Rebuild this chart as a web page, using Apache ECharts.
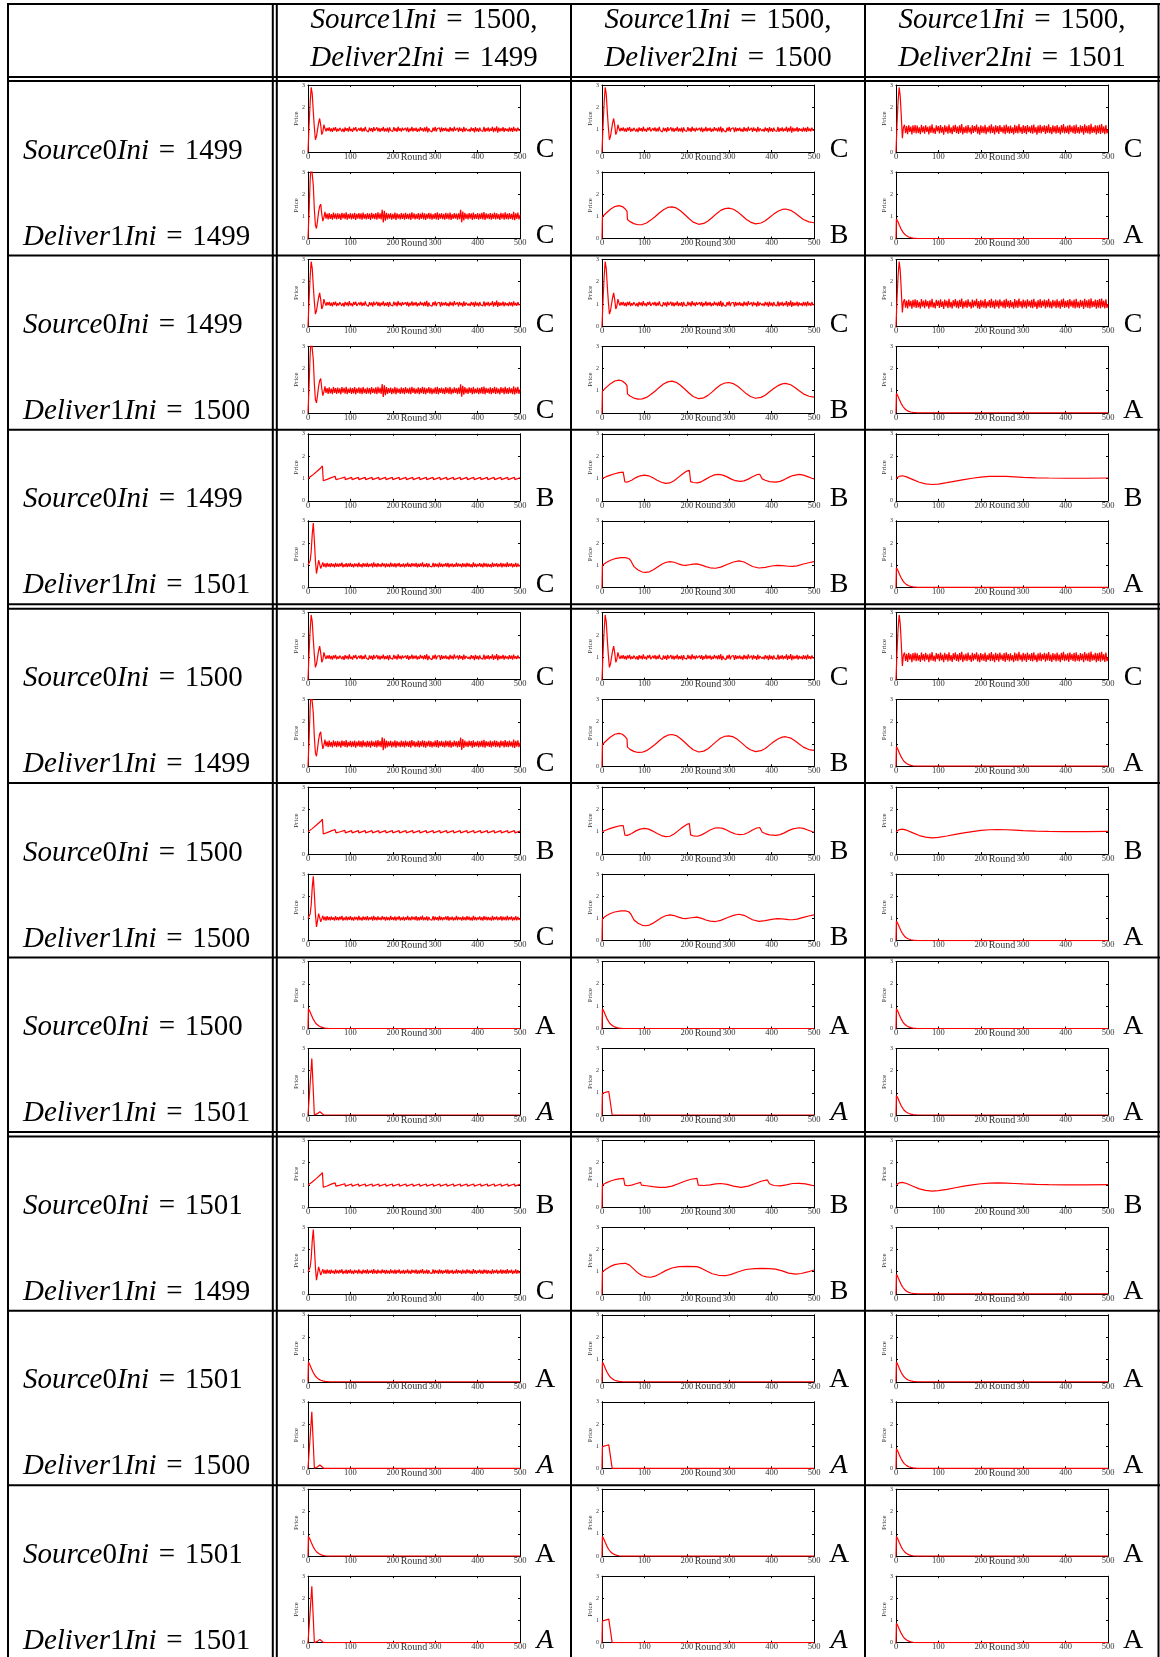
<!DOCTYPE html>
<html>
<head>
<meta charset="utf-8">
<script src="https://cdn.jsdelivr.net/npm/echarts@6.0.0/dist/echarts.min.js"></script>
<style>
  html, body { margin: 0; padding: 0; background: #fff; }
  #main { width: 1160px; height: 1657px; }
</style>
</head>
<body>
<div id="main"></div>
<script>
  // noisy runs, one value every STEP rounds (0..500)
  const STEP = 2.5;
  const noiseSmallY = [0, 1.2, 2.2, 2.9, 2.6, 1.8, 1.1, 0.55, 0.7, 1.0,
    1.3, 1.5, 1.2, 0.78, 0.9, 1.22, 1.05, 0.93, 1.08, 0.95,
    1.1, 0.92, 1.06, 0.9, 1.09, 0.96, 1.11, 0.91, 1.04, 0.94,
    1.08, 1.12, 0.92, 1.05, 0.89, 1.1, 0.95, 1.07, 0.91, 1.13,
    0.94, 1.03, 0.9, 1.09, 0.97, 1.11, 0.92, 0.88, 1.07, 0.95,
    1.1, 0.91, 1.06, 0.93, 1.12, 0.96, 1.04, 0.9, 1.09, 0.94,
    1.07, 0.89, 1.11, 0.95, 1.03, 1.1, 0.92, 1.08, 0.9, 1.06,
    0.95, 1.12, 0.91, 1.05, 0.93, 1.09, 0.88, 1.1, 0.96, 1.04,
    0.92, 1.11, 0.94, 1.07, 0.9, 1.13, 0.95, 1.06, 0.91, 1.09,
    0.97, 0.9, 1.08, 0.93, 1.1, 0.89, 1.05, 0.94, 1.12, 0.92,
    1.07, 0.95, 1.09, 0.9, 1.04, 0.93, 1.11, 0.96, 1.06, 0.91,
    1.1, 0.92, 1.14, 0.88, 1.07, 0.95, 1.03, 0.9, 1.09, 0.94,
    1.12, 0.91, 1.05, 0.97, 1.08, 0.89, 1.1, 0.93, 1.06, 0.95,
    1.09, 0.92, 1.04, 0.9, 1.11, 0.94, 1.07, 0.91, 1.13, 0.96,
    0.93, 1.08, 0.9, 1.1, 0.95, 1.05, 0.89, 1.12, 0.92, 1.06,
    1.09, 0.94, 1.03, 0.91, 1.1, 0.95, 1.07, 0.88, 1.11, 0.93,
    1.06, 0.9, 1.09, 0.96, 1.04, 0.92, 1.12, 0.9, 1.07, 0.94,
    1.1, 0.91, 1.05, 0.95, 1.13, 0.89, 1.08, 0.93, 1.15, 0.87,
    1.09, 0.92, 1.06, 0.94, 1.11, 0.9, 1.07, 0.95, 1.04, 0.91,
    1.1, 0.93, 1.08, 0.9, 1.12, 0.94, 1.05, 0.92, 1.09, 0.96,
    0.98];
  const noiseWideY = [0, 1.3, 2.3, 2.9, 2.5, 1.6, 0.62, 1.1, 1.22, 0.84,
    1.16, 0.8, 1.2, 0.9, 1.14, 0.79, 1.19, 0.86, 1.21, 0.83,
    1.18, 0.85, 1.1, 0.8, 1.22, 0.88, 1.15, 0.82, 1.2, 0.9,
    1.13, 0.79, 1.17, 0.86, 1.24, 0.84, 1.08, 0.81, 1.19, 0.92,
    1.16, 0.83, 1.21, 0.87, 1.12, 0.78, 1.2, 0.89, 1.15, 0.82,
    1.23, 0.85, 1.1, 0.8, 1.18, 0.9, 1.22, 0.84, 1.14, 0.81,
    1.19, 0.87, 1.25, 0.79, 1.12, 0.86, 1.17, 0.83, 1.21, 0.88,
    1.1, 0.8, 1.2, 0.85, 1.16, 0.91, 1.23, 0.82, 1.13, 0.78,
    1.19, 0.86, 1.15, 0.84, 1.22, 0.8, 1.11, 0.89, 1.18, 0.83,
    1.24, 0.85, 1.14, 0.79, 1.2, 0.88, 1.16, 0.81, 1.21, 0.9,
    1.12, 0.84, 1.19, 0.8, 1.23, 0.87, 1.15, 0.82, 1.18, 0.86,
    1.1, 0.79, 1.22, 0.85, 1.17, 0.83, 1.25, 0.88, 1.13, 0.81,
    1.2, 0.86, 1.16, 0.8, 1.21, 0.89, 1.14, 0.84, 1.19, 0.82,
    1.23, 0.87, 1.11, 0.78, 1.18, 0.85, 1.22, 0.83, 1.15, 0.9,
    1.2, 0.81, 1.17, 0.86, 1.24, 0.84, 1.12, 0.8, 1.19, 0.88,
    1.16, 0.82, 1.21, 0.85, 1.13, 0.79, 1.2, 0.87, 1.25, 0.83,
    1.14, 0.86, 1.18, 0.8, 1.22, 0.89, 1.15, 0.84, 1.2, 0.81,
    1.23, 0.85, 1.11, 0.82, 1.19, 0.88, 1.16, 0.78, 1.24, 0.86,
    1.17, 0.83, 1.21, 0.8, 1.26, 0.85, 1.13, 0.87, 1.2, 0.79,
    1.18, 0.84, 1.22, 0.81, 1.25, 0.86, 1.15, 0.8, 1.21, 0.83,
    1.0];
  const noiseLargeY = [0, 1.2, 2.6, 3.4, 3.4, 2.4, 1.3, 0.6, 0.45, 0.8,
    1.2, 1.45, 1.55, 1.1, 0.78, 0.95, 1.2, 0.9, 1.12, 0.86,
    1.15, 0.88, 1.1, 0.85, 1.17, 0.9, 1.12, 0.86, 1.14, 0.89,
    1.11, 0.84, 1.16, 0.91, 1.13, 0.87, 1.18, 0.85, 1.1, 0.9,
    1.14, 0.86, 1.12, 0.88, 1.16, 0.84, 1.11, 0.9, 1.15, 0.87,
    1.13, 0.85, 1.17, 0.89, 1.1, 0.86, 1.14, 0.88, 1.12, 0.84,
    1.16, 0.9, 1.11, 0.87, 1.15, 0.85, 1.18, 0.89, 1.13, 0.86,
    1.3, 0.72, 1.25, 0.8, 1.16, 0.86, 1.12, 0.9, 1.14, 0.85,
    1.11, 0.88, 1.17, 0.84, 1.13, 0.9, 1.1, 0.86, 1.15, 0.88,
    1.12, 0.85, 1.16, 0.89, 1.11, 0.87, 1.14, 0.84, 1.18, 0.9,
    1.13, 0.86, 1.1, 0.88, 1.15, 0.85, 1.12, 0.89, 1.17, 0.86,
    1.14, 0.84, 1.11, 0.9, 1.16, 0.87, 1.13, 0.85, 1.1, 0.88,
    1.15, 0.86, 1.18, 0.84, 1.12, 0.9, 1.14, 0.87, 1.11, 0.85,
    1.16, 0.89, 1.13, 0.86, 1.17, 0.84, 1.1, 0.88, 1.15, 0.9,
    1.12, 0.85, 1.14, 0.87, 1.29, 0.73, 1.22, 0.82, 1.16, 0.88,
    1.11, 0.86, 1.15, 0.9, 1.13, 0.84, 1.17, 0.87, 1.1, 0.89,
    1.14, 0.85, 1.12, 0.88, 1.16, 0.86, 1.19, 0.84, 1.13, 0.9,
    1.11, 0.87, 1.15, 0.85, 1.12, 0.89, 1.17, 0.86, 1.14, 0.88,
    1.1, 0.84, 1.16, 0.9, 1.13, 0.85, 1.18, 0.87, 1.12, 0.86,
    1.15, 0.89, 1.11, 0.85, 1.2, 0.83, 1.14, 0.88, 1.17, 0.86,
    1.06];
  const noiseSpikeY = [1.0, 1.05, 1.2, 1.6, 2.4, 2.9, 2.1, 1.2, 0.62, 0.9,
    1.22, 1.05, 0.85, 0.98, 1.12, 0.92, 1.08, 0.9, 1.1, 0.93,
    1.07, 0.91, 1.09, 0.94, 1.05, 0.9, 1.1, 0.93, 1.06, 0.92,
    1.08, 0.95, 1.11, 0.9, 1.04, 0.93, 1.09, 0.91, 1.07, 0.94,
    1.1, 0.92, 1.05, 0.9, 1.08, 0.95, 1.06, 0.91, 1.11, 0.93,
    1.04, 0.9, 1.09, 0.94, 1.07, 0.92, 1.1, 0.91, 1.05, 0.95,
    1.08, 0.9, 1.12, 0.93, 1.06, 0.91, 1.09, 0.94, 1.04, 0.92,
    1.1, 0.95, 1.07, 0.9, 1.08, 0.93, 1.05, 0.91, 1.11, 0.94,
    1.06, 0.92, 1.09, 0.9, 1.07, 0.95, 1.1, 0.91, 1.04, 0.93,
    1.08, 0.9, 1.06, 0.94, 1.11, 0.92, 1.05, 0.91, 1.09, 0.95,
    1.07, 0.93, 1.1, 0.9, 1.06, 0.92, 1.08, 0.94, 1.12, 0.91,
    1.05, 0.93, 1.09, 0.9, 1.07, 0.95, 1.04, 0.92, 1.1, 0.91,
    1.08, 0.94, 1.06, 0.9, 1.11, 0.93, 1.07, 0.91, 1.05, 0.95,
    1.09, 0.92, 1.1, 0.9, 1.06, 0.94, 1.08, 0.91, 1.04, 0.93,
    1.11, 0.92, 1.07, 0.95, 1.05, 0.9, 1.09, 0.93, 1.06, 0.91,
    1.1, 0.94, 1.08, 0.92, 1.04, 0.9, 1.12, 0.93, 1.07, 0.91,
    1.05, 0.95, 1.09, 0.92, 1.06, 0.9, 1.1, 0.94, 1.08, 0.91,
    1.07, 0.93, 1.04, 0.9, 1.11, 0.92, 1.06, 0.95, 1.09, 0.91,
    1.05, 0.94, 1.1, 0.9, 1.08, 0.93, 1.07, 0.91, 1.12, 0.92,
    1.06, 0.95, 1.09, 0.9, 1.05, 0.93, 1.1, 0.91, 1.07, 0.94,
    1.0];

  // smooth runs as [round, price]
  const sinePts = [[0,0],[1,0.98],[10,1.15],[20,1.32],[30,1.44],[40,1.48],[48,1.44],[55,1.33],[59,1.22],[60,0.86],
    [66,0.76],[75,0.67],[85,0.62],[95,0.63],[105,0.7],[115,0.83],[125,0.98],[135,1.15],[145,1.3],[155,1.4],
    [165,1.43],[175,1.38],[185,1.25],[195,1.08],[205,0.9],[215,0.74],[228,0.64],[240,0.68],[250,0.79],[260,0.95],
    [270,1.12],[280,1.27],[290,1.35],[299,1.37],[310,1.32],[320,1.2],[330,1.04],[340,0.87],[350,0.74],[362,0.66],
    [375,0.7],[385,0.8],[395,0.95],[405,1.1],[415,1.23],[425,1.31],[433,1.33],[445,1.27],[455,1.15],[465,1.0],
    [475,0.86],[488,0.75],[500,0.71]];
  const sawPts = [[0,1.0],[10,1.14],[20,1.3],[30,1.47],[34,1.56],[36,0.9],[45,0.96],[55,1.04],[64,1.1],[66,0.95],
    [76,1.0],[87,1.06],[88,0.95],[103,1.05],[104,0.95],[119,1.05],[120,0.95],[135,1.05],[136,0.95],[151,1.05],
    [152,0.95],[167,1.05],[168,0.95],[183,1.05],[184,0.95],[199,1.05],[200,0.95],[215,1.05],[216,0.95],[231,1.05],
    [232,0.95],[247,1.05],[248,0.95],[263,1.05],[264,0.95],[279,1.05],[280,0.95],[295,1.05],[296,0.95],[311,1.05],
    [312,0.95],[327,1.05],[328,0.95],[343,1.05],[344,0.95],[359,1.05],[360,0.95],[375,1.05],[376,0.95],[391,1.05],
    [392,0.95],[407,1.05],[408,0.95],[423,1.05],[424,0.95],[439,1.05],[440,0.95],[455,1.05],[456,0.95],[471,1.05],
    [472,0.95],[487,1.05],[488,0.95],[500,1.03]];
  const wavyJumpsPts = [[0,1.0],[10,1.08],[20,1.15],[30,1.21],[40,1.26],[50,1.28],[53,1.26],[54,0.85],[60,0.84],[70,0.92],
    [80,1.04],[90,1.12],[100,1.15],[110,1.12],[120,1.03],[130,0.92],[140,0.83],[150,0.78],[160,0.8],[170,0.9],
    [180,1.05],[190,1.2],[200,1.33],[206,1.37],[208,1.35],[209,0.86],[215,0.82],[225,0.8],[235,0.86],[245,0.97],
    [255,1.08],[265,1.16],[275,1.18],[285,1.15],[295,1.07],[305,0.97],[315,0.9],[325,0.87],[335,0.89],[345,0.97],
    [355,1.08],[365,1.17],[372,1.19],[376,1.16],[378,0.98],[385,0.92],[395,0.86],[410,0.84],[420,0.87],[430,0.95],
    [440,1.05],[450,1.13],[465,1.18],[475,1.15],[485,1.08],[495,1.01],[500,0.98]];
  const wavyJumps2Pts = [[0,0],[1,1.0],[10,1.1],[20,1.18],[30,1.24],[40,1.28],[51,1.3],[53,1.28],[54,1.0],[60,0.97],
    [70,1.0],[80,1.06],[91,1.12],[93,1.0],[105,0.97],[120,0.93],[135,0.9],[150,0.9],[165,0.95],[180,1.06],
    [195,1.17],[210,1.26],[224,1.3],[226,1.28],[227,1.0],[240,0.98],[255,1.01],[268,1.05],[280,1.07],[295,1.03],
    [310,0.95],[328,0.9],[345,0.95],[360,1.06],[375,1.17],[390,1.23],[393,1.2],[395,1.06],[405,0.98],[420,0.96],
    [435,1.01],[449,1.07],[465,1.08],[480,1.05],[490,1.01],[500,0.97]];
  const wavy2Pts = [[0,0],[1,1.0],[10,1.12],[20,1.22],[30,1.29],[45,1.34],[55,1.34],[63,1.3],[68,1.2],[72,1.05],
    [76,0.92],[85,0.78],[95,0.69],[102,0.67],[112,0.7],[122,0.8],[132,0.93],[142,1.05],[150,1.12],[160,1.16],
    [170,1.13],[180,1.06],[190,1.0],[197,0.99],[210,1.03],[224,1.06],[235,1.0],[245,0.93],[255,0.88],[268,0.86],
    [280,0.91],[295,1.03],[310,1.14],[323,1.19],[335,1.14],[345,1.04],[355,0.94],[370,0.87],[385,0.9],[400,0.96],
    [413,0.99],[425,0.98],[440,0.95],[449,0.94],[460,0.97],[475,1.05],[490,1.12],[500,1.16]];
  const wavy3Pts = [[0,0],[1,1.0],[10,1.12],[20,1.24],[30,1.32],[45,1.37],[55,1.38],[65,1.3],[75,1.12],[85,0.94],
    [95,0.82],[105,0.77],[115,0.75],[125,0.8],[138,0.92],[150,1.05],[165,1.17],[181,1.23],[200,1.24],[224,1.23],
    [235,1.15],[248,1.02],[260,0.91],[275,0.84],[291,0.82],[305,0.88],[320,0.99],[339,1.1],[360,1.14],[378,1.15],
    [395,1.14],[409,1.12],[425,1.04],[440,0.94],[457,0.89],[470,0.92],[485,0.99],[500,1.08]];
  const slowPts = [[0,1.0],[8,1.1],[15,1.12],[25,1.07],[40,0.95],[55,0.83],[70,0.76],[85,0.73],[100,0.75],[120,0.81],
    [140,0.88],[160,0.95],[180,1.01],[200,1.06],[220,1.09],[240,1.1],[260,1.09],[280,1.07],[300,1.05],[330,1.03],
    [360,1.02],[400,1.01],[450,1.01],[500,1.02]];
  const decayPts = [[0,0],[1,0.88],[4,0.78],[8,0.6],[12,0.43],[16,0.3],[20,0.2],[25,0.12],[30,0.07],[35,0.04],
    [40,0.02],[50,0],[500,0]];
  const spikePts = [[0,0],[5,1.4],[9,2.55],[12,1.3],[15,0],[22,0.06],[28,0.15],[32,0.1],[37,0],[500,0]];
  const boxPts = [[0,0],[1,0.98],[5,1.0],[10,1.03],[16,1.06],[18,1.0],[24,0],[500,0]];

  // table labels
  const rowSource0 = ['1499', '1499', '1499', '1500', '1500', '1500', '1501', '1501', '1501'];
  const rowDeliver1 = ['1499', '1500', '1501', '1499', '1500', '1501', '1499', '1500', '1501'];
  const colSource1 = ['1500', '1500', '1500'];
  const colDeliver2 = ['1499', '1500', '1501'];

  const topClass = [
    ['C', 'C', 'C'], ['C', 'C', 'C'], ['B', 'B', 'B'],
    ['C', 'C', 'C'], ['B', 'B', 'B'], ['A', 'A', 'A'],
    ['B', 'B', 'B'], ['A', 'A', 'A'], ['A', 'A', 'A']
  ];
  // '*' = letter set in italics
  const bottomClass = [
    ['C', 'B', 'A'], ['C', 'B', 'A'], ['C', 'B', 'A'],
    ['C', 'B', 'A'], ['C', 'B', 'A'], ['A*', 'A*', 'A'],
    ['C', 'B', 'A'], ['A*', 'A*', 'A'], ['A*', 'A*', 'A']
  ];
  const topCurve = [
    ['noiseSmall', 'noiseSmall', 'noiseWide'], ['noiseSmall', 'noiseSmall', 'noiseWide'], ['saw', 'wavyJumps', 'slow'],
    ['noiseSmall', 'noiseSmall', 'noiseWide'], ['saw', 'wavyJumps', 'slow'], ['decay', 'decay', 'decay'],
    ['saw', 'wavyJumps2', 'slow'], ['decay', 'decay', 'decay'], ['decay', 'decay', 'decay']
  ];
  const bottomCurve = [
    ['noiseLarge', 'sine', 'decay'], ['noiseLarge', 'sine', 'decay'], ['noiseSpike', 'wavy2', 'decay'],
    ['noiseLarge', 'sine', 'decay'], ['noiseSpike', 'wavy2', 'decay'], ['spike', 'box', 'decay'],
    ['noiseSpike', 'wavy3', 'decay'], ['spike', 'box', 'decay'], ['spike', 'box', 'decay']
  ];

  const stepped = ys => ys.map((y, i) => [i * STEP, y]);
  const curves = {
    noiseSmall: stepped(noiseSmallY),
    noiseWide: stepped(noiseWideY),
    noiseLarge: stepped(noiseLargeY),
    noiseSpike: stepped(noiseSpikeY),
    sine: sinePts, saw: sawPts, wavyJumps: wavyJumpsPts, wavyJumps2: wavyJumps2Pts,
    wavy2: wavy2Pts, wavy3: wavy3Pts, slow: slowPts, decay: decayPts, spike: spikePts, box: boxPts
  };

  // layout
  const SERIF = '"Liberation Serif", "Times New Roman", serif';
  const FS = 29;
  const ROW_H = 174.4;
  const GROUP_GAP = 4.5;
  const colLeft = [277, 571, 865];
  const PLOT_OFF = 31, PLOT_W = 212;
  const rowTop = r => 81 + r * ROW_H + Math.floor(r / 3) * GROUP_GAP;

  const grid = [], xAxis = [], yAxis = [], series = [], graphic = [];

  function addChart (left, top, height, key) {
    const k = grid.length;
    grid.push({left: left, top: top, width: PLOT_W, height: height});
    const lineStyle = {color: '#000', width: 1};
    const tick = {show: true, inside: true, length: 2, lineStyle: {color: '#000'}};
    xAxis.push({
      gridIndex: k, type: 'value', min: 0, max: 500, interval: 100, position: 'bottom',
      axisLine: {show: true, onZero: false, lineStyle: lineStyle},
      axisTick: tick, splitLine: {show: false},
      axisLabel: {fontSize: 8.5, color: '#333', margin: 0, fontFamily: SERIF, showMinLabel: true, showMaxLabel: true},
      name: 'Round', nameLocation: 'middle', nameGap: 0, nameMoveOverlap: false,
      nameTextStyle: {fontSize: 10, color: '#333', fontFamily: SERIF}
    });
    xAxis.push({
      gridIndex: k, type: 'value', min: 0, max: 500, interval: 100, position: 'top',
      axisLine: {show: true, onZero: false, lineStyle: lineStyle},
      axisTick: tick, axisLabel: {show: false}, splitLine: {show: false}
    });
    yAxis.push({
      gridIndex: k, type: 'value', min: 0, max: 3, interval: 1, position: 'left',
      axisLine: {show: true, onZero: false, lineStyle: lineStyle},
      axisTick: tick, splitLine: {show: false},
      axisLabel: {fontSize: 6, color: '#333', margin: 3, fontFamily: SERIF},
      name: 'Price', nameLocation: 'middle', nameGap: 8, nameMoveOverlap: false,
      nameTextStyle: {fontSize: 7, color: '#333', fontFamily: SERIF}
    });
    yAxis.push({
      gridIndex: k, type: 'value', min: 0, max: 3, interval: 1, position: 'right',
      axisLine: {show: true, onZero: false, lineStyle: lineStyle},
      axisTick: tick, axisLabel: {show: false}, splitLine: {show: false}
    });
    series.push({
      type: 'line', xAxisIndex: 2 * k, yAxisIndex: 2 * k, data: curves[key],
      showSymbol: false, symbol: 'none', clip: true, silent: true,
      lineStyle: {color: '#ff0000', width: 1.2}
    });
  }

  const rich = {
    i: {fontFamily: SERIF, fontStyle: 'italic', fontSize: FS, fill: '#000'},
    r: {fontFamily: SERIF, fontSize: FS, fill: '#000'}
  };
  function mathText (name, digit, value) {
    return '{i|' + name + '}{r|' + digit + '}{i|Ini}{r|\u2004=\u2004' + value + '}';
  }
  function addText (x, y, text, align) {
    graphic.push({
      type: 'text', x: x, y: y,
      style: {text: text, rich: rich, align: align, verticalAlign: 'middle', fontSize: FS, fontFamily: SERIF}
    });
  }
  function addLetter (x, y, cls) {
    const italic = cls.indexOf('*') > -1;
    graphic.push({
      type: 'text', x: x, y: y,
      style: {
        text: cls.replace('*', ''), fontSize: 28, fontFamily: SERIF,
        fontStyle: italic ? 'italic' : 'normal', fill: '#000', align: 'center', verticalAlign: 'middle'
      }
    });
  }

  // charts and letters
  for (let r = 0; r < 9; r++) {
    const t = rowTop(r);
    for (let c = 0; c < 3; c++) {
      const left = colLeft[c] + PLOT_OFF;
      addChart(left, t + 4, 67, topCurve[r][c]);
      addChart(left, t + 91, 66.5, bottomCurve[r][c]);
      addLetter(left + PLOT_W + 25, t + 69, topClass[r][c]);
      addLetter(left + PLOT_W + 25, t + 155, bottomClass[r][c]);
    }
    addText(23, t + 70, mathText('Source', '0', rowSource0[r]), 'left');
    addText(23, t + 156, mathText('Deliver', '1', rowDeliver1[r]), 'left');
  }

  // header
  for (let c = 0; c < 3; c++) {
    const cx = (colLeft[c] + (c < 2 ? colLeft[c + 1] : 1159)) / 2;
    addText(cx, 20, mathText('Source', '1', colSource1[c]) + '{r|,}', 'center');
    addText(cx, 58, mathText('Deliver', '2', colDeliver2[c]), 'center');
  }

  // table rules
  const hLines = [4, 77, 81];
  for (let r = 1; r < 9; r++) {
    if (r % 3 === 0) hLines.push(rowTop(r) - GROUP_GAP);
    hLines.push(rowTop(r));
  }
  hLines.forEach(y => graphic.push({
    type: 'line', shape: {x1: 7, y1: y, x2: 1160, y2: y}, style: {stroke: '#000', lineWidth: 2}
  }));
  [8, 272.8, 276.8, 571, 865, 1158.5].forEach(x => graphic.push({
    type: 'line', shape: {x1: x, y1: 3, x2: x, y2: 1657}, style: {stroke: '#000', lineWidth: 2}
  }));

  const myChart = echarts.init(document.getElementById('main'));
  myChart.setOption({
    backgroundColor: '#fff',
    animation: false,
    grid: grid,
    xAxis: xAxis,
    yAxis: yAxis,
    series: series,
    graphic: graphic
  });
</script>
</body>
</html>
